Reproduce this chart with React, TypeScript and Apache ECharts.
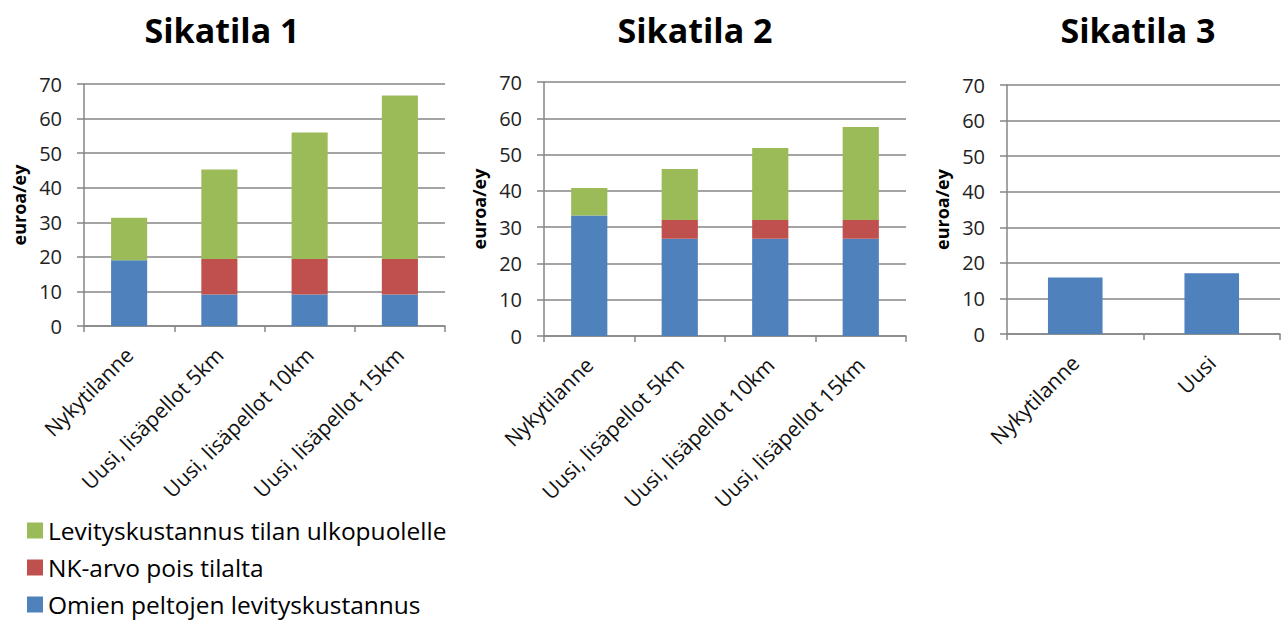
import React, { useEffect, useRef } from "react";
import * as echarts from "echarts";

const titles = ["Sikatila 1", "Sikatila 2", "Sikatila 3"];
const yAxisName = "euroa/ey";
const seriesNames = [
  "Omien peltojen levityskustannus",
  "NK-arvo pois tilalta",
  "Levityskustannus tilan ulkopuolelle",
];
const legendOrder = [
  "Levityskustannus tilan ulkopuolelle",
  "NK-arvo pois tilalta",
  "Omien peltojen levityskustannus",
];
const colors = ["#4F81BD", "#C0504D", "#9BBB59"];

const categories1 = ["Nykytilanne", "Uusi, lisäpellot 5km", "Uusi, lisäpellot 10km", "Uusi, lisäpellot 15km"];
const blue1 = [19.0, 9.1, 9.1, 9.1];
const red1 = [0, 10.3, 10.3, 10.3];
const green1 = [12.3, 25.9, 36.6, 47.3];

const categories2 = ["Nykytilanne", "Uusi, lisäpellot 5km", "Uusi, lisäpellot 10km", "Uusi, lisäpellot 15km"];
const blue2 = [33.2, 26.8, 26.8, 26.8];
const red2 = [0, 5.2, 5.2, 5.2];
const green2 = [7.6, 14.0, 19.8, 25.6];

const categories3 = ["Nykytilanne", "Uusi"];
const blue3 = [15.9, 17.1];

const yTicks = { min: 0, max: 70, interval: 10 };

const FONT = "'Open Sans', sans-serif";

export default function App() {
  const ref = useRef<HTMLDivElement>(null);
  useEffect(() => {
    if (!ref.current) return;
    const chart = echarts.init(ref.current, null, { renderer: "svg" });
    const grids = [
      { left: 84, top: 84, width: 361, height: 242 },
      { left: 544, top: 82, width: 362, height: 254 },
      { left: 1007, top: 85, width: 273, height: 249 },
    ];
    const cats = [categories1, categories2, categories3];
    const axisColor = "#868686";
    const xAxes = cats.map((c, i) => ({
      type: "category",
      gridIndex: i,
      data: c,
      axisLine: { lineStyle: { color: axisColor, width: 1.5 } },
      axisTick: { show: true, length: 6, lineStyle: { color: axisColor, width: 1.5 } },
      axisLabel: { rotate: 45, margin: 25, fontSize: 21, color: "#111", fontFamily: FONT, interval: 0 },
    }));
    const yAxes = cats.map((_, i) => ({
      type: "value",
      gridIndex: i,
      min: yTicks.min,
      max: yTicks.max,
      interval: yTicks.interval,
      name: yAxisName,
      nameLocation: "middle",
      nameGap: 56,
      nameTextStyle: { fontSize: 18, fontWeight: "bold", color: "#000", fontFamily: FONT },
      axisLine: { show: true, lineStyle: { color: axisColor, width: 1.5 } },
      axisTick: { show: true, length: 7, lineStyle: { color: axisColor, width: 1.5 } },
      splitLine: { show: true, lineStyle: { color: axisColor, width: 1.5 } },
      axisLabel: { fontSize: 20, color: "#222", fontFamily: FONT, margin: 22 },
    }));
    const mk = (name: string, data: number[], idx: number, color: string) => ({
      type: "bar",
      name,
      stack: "s" + idx,
      xAxisIndex: idx,
      yAxisIndex: idx,
      data,
      barWidth: "40%",
      itemStyle: { color },
    });
    const series = [
      mk(seriesNames[0], blue1, 0, colors[0]),
      mk(seriesNames[1], red1, 0, colors[1]),
      mk(seriesNames[2], green1, 0, colors[2]),
      mk(seriesNames[0], blue2, 1, colors[0]),
      mk(seriesNames[1], red2, 1, colors[1]),
      mk(seriesNames[2], green2, 1, colors[2]),
      mk(seriesNames[0], blue3, 2, colors[0]),
    ];
    const titleX = [222, 695, 1138];
    chart.setOption({
      animation: false,
      backgroundColor: "#fff",
      grid: grids,
      xAxis: xAxes,
      yAxis: yAxes,
      series,
      legend: {
        orient: "vertical",
        left: 27,
        top: 518,
        height: 140,
        padding: 0,
        data: legendOrder,
        itemWidth: 16,
        itemHeight: 16,
        itemGap: 12,
        icon: "rect",
        textStyle: { fontSize: 24.5, lineHeight: 24, color: "#000", fontFamily: FONT },
      },
      graphic: titles.map((t, i) => ({
        type: "text",
        x: titleX[i],
        y: 30,
        style: {
          text: t,
          fontSize: 34,
          fontWeight: "bold",
          fontFamily: FONT,
          fill: "#000",
          textAlign: "center",
          textVerticalAlign: "middle",
        },
      })),
    });
    return () => chart.dispose();
  }, []);
  return (
    <div
      ref={ref}
      style={{ position: "fixed", left: 0, top: 0, width: 1282, height: 625 }}
    />
  );
}
